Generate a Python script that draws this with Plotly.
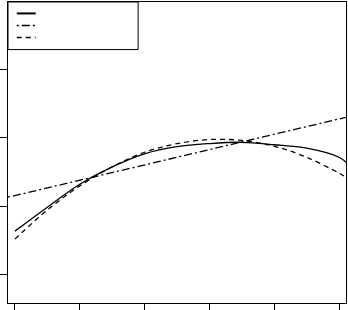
import plotly.graph_objects as go

# data (axis units: x ticks 0..5, y ticks 0..3)
x_curve = [0, 0.5, 1, 1.5, 2, 2.5, 3, 3.5, 4, 4.5, 5, 5.107]
y_solid = [0.635, 0.985, 1.321, 1.575, 1.766, 1.870, 1.915, 1.934, 1.898, 1.847, 1.715, 1.642]
y_dashed = [0.518, 0.944, 1.296, 1.575, 1.788, 1.914, 1.974, 1.961, 1.875, 1.715, 1.483, 1.423]
x_line = [-0.107, 5.107]
y_dotdash = [1.131, 2.299]
x_ticks = [0, 1, 2, 3, 4, 5]
y_ticks = [0, 1, 2, 3]

fig = go.Figure()
fig.add_trace(go.Scatter(x=x_curve, y=y_solid, mode="lines", line_shape="spline",
                         line=dict(color="black", width=1.3), showlegend=False))
fig.add_trace(go.Scatter(x=x_line, y=y_dotdash, mode="lines",
                         line=dict(color="black", width=1.3, dash="2px,3px,8px,3px"), showlegend=False))
fig.add_trace(go.Scatter(x=x_curve, y=y_dashed, mode="lines", line_shape="spline",
                         line=dict(color="black", width=1.3, dash="5px,4px"), showlegend=False))

# legend box (drawn as layout shapes)
shapes = [
    dict(type="rect", xref="paper", yref="paper", x0=0, x1=0.385, y0=0.842, y1=1.0,
         line=dict(color="black", width=1), fillcolor="white", layer="above"),
    dict(type="line", xref="paper", yref="paper", x0=0.026, x1=0.082, y0=0.962, y1=0.962,
         line=dict(color="black", width=2), layer="above"),
    dict(type="line", xref="paper", yref="paper", x0=0.026, x1=0.082, y0=0.922, y1=0.922,
         line=dict(color="black", width=1.3, dash="2px,3px,8px,3px"), layer="above"),
    dict(type="line", xref="paper", yref="paper", x0=0.026, x1=0.082, y0=0.882, y1=0.882,
         line=dict(color="black", width=1.3, dash="5px,4px"), layer="above"),
]

fig.update_layout(
    width=348, height=310,
    margin=dict(l=7, r=1, t=1.5, b=7, pad=0),
    paper_bgcolor="white", plot_bgcolor="white",
    showlegend=False,
    shapes=shapes,
    xaxis=dict(range=[-0.107, 5.107], tickvals=x_ticks, ticks="outside", ticklen=6,
               tickcolor="black", tickwidth=1, showticklabels=False, showgrid=False,
               zeroline=False, showline=True, linecolor="black", linewidth=1, mirror=True),
    yaxis=dict(range=[-0.416, 3.985], tickvals=y_ticks, ticks="outside", ticklen=7,
               tickcolor="black", tickwidth=1, showticklabels=False, showgrid=False,
               zeroline=False, showline=True, linecolor="black", linewidth=1, mirror=True),
)

fig.write_html("out.html")
